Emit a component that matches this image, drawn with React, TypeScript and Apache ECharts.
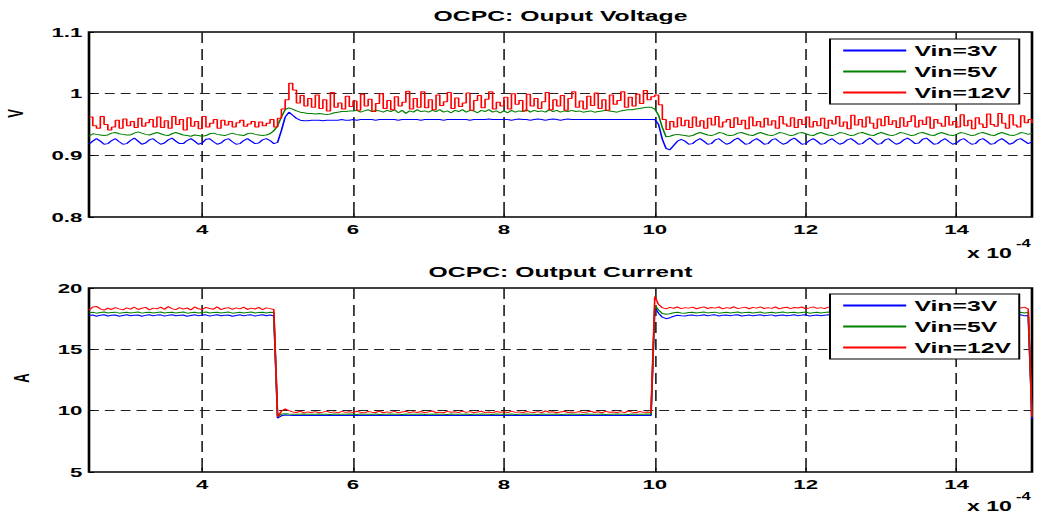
import React, { useEffect, useRef } from 'react';
import * as echarts from 'echarts';

// Horizontal stretch of the whole figure (the reference is a widened MATLAB figure)
const S = 1.65;
const PAGE_W = 1037;
const PAGE_H = 520;
const W = PAGE_W / S;
const px = (x: number) => x / S;
const FONT = '"Liberation Sans", Arial, Helvetica, sans-serif';

// Time base: samples every 0.05 (x 1e-4 s) from 2.5 to 15
const T_START = 2.5;
const T_STEP = 0.05;
const X_TICKS = [4, 6, 8, 10, 12, 14];

const SERIES_NAMES = ['Vin=3V', 'Vin=5V', 'Vin=12V'];
const SERIES_COLORS = ['#0000ff', '#008000', '#ff0000'];

// ---------- Output voltage (V) ----------
const voltage3V = [
  0.918, 0.923, 0.927, 0.923, 0.918, 0.919, 0.924, 0.927, 0.922, 0.918,
  0.919, 0.924, 0.928, 0.923, 0.918, 0.920, 0.925, 0.927, 0.922, 0.918,
  0.920, 0.925, 0.928, 0.923, 0.919, 0.919, 0.924, 0.927, 0.923, 0.918,
  0.920, 0.926, 0.927, 0.922, 0.918, 0.920, 0.925, 0.927, 0.922, 0.918,
  0.919, 0.924, 0.927, 0.923, 0.919, 0.920, 0.925, 0.927, 0.924, 0.919,
  0.921, 0.940, 0.962, 0.970, 0.965, 0.960, 0.957, 0.956, 0.956, 0.957,
  0.957, 0.957, 0.956, 0.957, 0.957, 0.957, 0.957, 0.958, 0.957, 0.957,
  0.958, 0.957, 0.958, 0.958, 0.958, 0.958, 0.957, 0.958, 0.958, 0.958,
  0.958, 0.958, 0.957, 0.958, 0.958, 0.958, 0.958, 0.958, 0.957, 0.958,
  0.958, 0.958, 0.958, 0.958, 0.957, 0.958, 0.958, 0.958, 0.958, 0.958,
  0.958, 0.957, 0.958, 0.958, 0.958, 0.958, 0.959, 0.958, 0.958, 0.958,
  0.958, 0.958, 0.957, 0.958, 0.959, 0.958, 0.958, 0.957, 0.958, 0.959,
  0.958, 0.957, 0.958, 0.959, 0.958, 0.957, 0.958, 0.959, 0.958, 0.958,
  0.958, 0.958, 0.958, 0.958, 0.958, 0.958, 0.958, 0.958, 0.958, 0.958,
  0.958, 0.958, 0.958, 0.958, 0.958, 0.958, 0.958, 0.958, 0.958, 0.958,
  0.958, 0.950, 0.926, 0.911, 0.909, 0.916, 0.923, 0.926, 0.923, 0.918,
  0.919, 0.924, 0.927, 0.923, 0.918, 0.919, 0.925, 0.927, 0.922, 0.918,
  0.920, 0.925, 0.928, 0.923, 0.918, 0.919, 0.924, 0.927, 0.923, 0.918,
  0.919, 0.925, 0.927, 0.922, 0.918, 0.920, 0.925, 0.928, 0.923, 0.918,
  0.919, 0.924, 0.927, 0.923, 0.918, 0.919, 0.924, 0.927, 0.922, 0.918,
  0.920, 0.925, 0.927, 0.923, 0.918, 0.919, 0.924, 0.928, 0.923, 0.918,
  0.919, 0.925, 0.927, 0.922, 0.918, 0.920, 0.925, 0.928, 0.924, 0.919,
  0.920, 0.926, 0.928, 0.923, 0.918, 0.919, 0.924, 0.927, 0.922, 0.918,
  0.920, 0.925, 0.927, 0.922, 0.918, 0.919, 0.925, 0.927, 0.923, 0.918,
  0.919, 0.924, 0.927, 0.923, 0.918, 0.920, 0.925, 0.927, 0.923, 0.919,
  0.922,
];

const voltage5V = [
  0.931, 0.935, 0.934, 0.933, 0.932, 0.933, 0.936, 0.937, 0.935, 0.934,
  0.933, 0.933, 0.936, 0.938, 0.936, 0.934, 0.933, 0.935, 0.937, 0.935,
  0.933, 0.932, 0.935, 0.937, 0.935, 0.933, 0.932, 0.931, 0.933, 0.932,
  0.931, 0.932, 0.935, 0.936, 0.934, 0.933, 0.932, 0.934, 0.936, 0.934,
  0.933, 0.932, 0.935, 0.936, 0.934, 0.933, 0.932, 0.933, 0.935, 0.940,
  0.948, 0.962, 0.974, 0.977, 0.975, 0.972, 0.970, 0.969, 0.968, 0.968,
  0.967, 0.968, 0.967, 0.966, 0.967, 0.969, 0.970, 0.971, 0.971, 0.972,
  0.972, 0.973, 0.970, 0.972, 0.974, 0.971, 0.973, 0.972, 0.970, 0.973,
  0.971, 0.974, 0.969, 0.973, 0.968, 0.972, 0.970, 0.974, 0.971, 0.972,
  0.970, 0.973, 0.971, 0.974, 0.970, 0.972, 0.969, 0.973, 0.971, 0.974,
  0.970, 0.973, 0.972, 0.969, 0.973, 0.971, 0.974, 0.970, 0.972, 0.969,
  0.972, 0.969, 0.973, 0.970, 0.972, 0.971, 0.974, 0.970, 0.973, 0.971,
  0.972, 0.970, 0.974, 0.971, 0.973, 0.970, 0.972, 0.971, 0.973, 0.971,
  0.972, 0.970, 0.971, 0.972, 0.970, 0.971, 0.972, 0.973, 0.972, 0.971,
  0.970, 0.972, 0.973, 0.974, 0.974, 0.975, 0.976, 0.977, 0.978, 0.978,
  0.975, 0.965, 0.945, 0.930, 0.931, 0.933, 0.934, 0.933, 0.932, 0.931,
  0.932, 0.935, 0.937, 0.935, 0.933, 0.932, 0.934, 0.937, 0.936, 0.933,
  0.932, 0.933, 0.936, 0.937, 0.935, 0.933, 0.932, 0.935, 0.937, 0.935,
  0.933, 0.932, 0.934, 0.937, 0.936, 0.934, 0.932, 0.933, 0.936, 0.937,
  0.935, 0.933, 0.932, 0.935, 0.937, 0.935, 0.933, 0.932, 0.934, 0.937,
  0.936, 0.934, 0.932, 0.933, 0.936, 0.937, 0.935, 0.933, 0.932, 0.935,
  0.937, 0.935, 0.933, 0.932, 0.934, 0.937, 0.936, 0.934, 0.932, 0.933,
  0.936, 0.937, 0.935, 0.933, 0.932, 0.935, 0.937, 0.935, 0.933, 0.932,
  0.934, 0.937, 0.936, 0.934, 0.932, 0.933, 0.936, 0.937, 0.935, 0.933,
  0.932, 0.935, 0.937, 0.935, 0.933, 0.932, 0.934, 0.937, 0.936, 0.934,
  0.936,
];

const voltage12V = [
  0.962, 0.948, 0.944, 0.963, 0.950, 0.941, 0.946, 0.957, 0.944, 0.959,
  0.948, 0.955, 0.945, 0.960, 0.947, 0.953, 0.958, 0.946, 0.962, 0.945,
  0.956, 0.944, 0.963, 0.950, 0.958, 0.941, 0.961, 0.947, 0.955, 0.943,
  0.963, 0.946, 0.952, 0.958, 0.944, 0.957, 0.949, 0.955, 0.946, 0.953,
  0.957, 0.947, 0.951, 0.955, 0.946, 0.954, 0.948, 0.952, 0.958, 0.946,
  0.960, 0.975, 0.990, 1.017, 1.006, 0.985, 0.997, 0.980, 0.992, 0.978,
  0.998, 0.976, 0.990, 0.972, 1.002, 0.978, 0.985, 0.975, 0.996, 0.979,
  0.988, 0.973, 0.999, 0.980, 0.991, 0.971, 0.984, 1.000, 0.976, 0.989,
  0.974, 0.995, 0.980, 0.986, 1.004, 0.975, 0.992, 0.978, 1.003, 0.977,
  0.990, 0.974, 0.998, 0.981, 0.987, 1.002, 0.976, 0.993, 0.979, 0.985,
  1.001, 0.973, 0.989, 0.997, 0.977, 0.991, 1.003, 0.975, 0.986, 0.980,
  0.994, 0.975, 1.000, 0.983, 0.989, 0.972, 0.999, 0.980, 0.992, 0.976,
  0.987, 1.002, 0.974, 0.990, 0.980, 0.997, 0.973, 0.992, 1.003, 0.978,
  0.988, 0.975, 0.996, 0.981, 1.001, 0.976, 0.990, 0.973, 0.998, 0.983,
  0.989, 1.003, 0.978, 0.994, 0.980, 0.999, 0.984, 1.005, 0.990, 0.995,
  0.998, 0.982, 0.958, 0.942, 0.955, 0.946, 0.961, 0.948, 0.957, 0.945,
  0.962, 0.947, 0.956, 0.944, 0.960, 0.949, 0.963, 0.946, 0.954, 0.958,
  0.945, 0.961, 0.950, 0.957, 0.943, 0.962, 0.948, 0.955, 0.946, 0.960,
  0.949, 0.956, 0.944, 0.963, 0.951, 0.947, 0.961, 0.945, 0.958, 0.950,
  0.962, 0.946, 0.955, 0.948, 0.960, 0.944, 0.957, 0.951, 0.963, 0.947,
  0.954, 0.943, 0.965, 0.949, 0.958, 0.946, 0.962, 0.952, 0.944, 0.959,
  0.948, 0.963, 0.950, 0.956, 0.945, 0.961, 0.947, 0.955, 0.964, 0.946,
  0.957, 0.950, 0.962, 0.944, 0.958, 0.952, 0.947, 0.963, 0.949, 0.955,
  0.946, 0.966, 0.948, 0.957, 0.943, 0.961, 0.951, 0.945, 0.967, 0.950,
  0.947, 0.968, 0.952, 0.944, 0.966, 0.949, 0.946, 0.964, 0.953, 0.958,
  0.952,
];

// ---------- Output current (A) ----------
const current3V = [
  17.75, 17.80, 17.70, 17.78, 17.82, 17.72, 17.78, 17.80, 17.70, 17.76,
  17.82, 17.74, 17.78, 17.80, 17.70, 17.77, 17.82, 17.73, 17.79, 17.81,
  17.71, 17.77, 17.82, 17.74, 17.78, 17.80, 17.70, 17.76, 17.82, 17.73,
  17.79, 17.81, 17.71, 17.77, 17.82, 17.74, 17.78, 17.80, 17.70, 17.76,
  17.82, 17.73, 17.79, 17.81, 17.71, 17.77, 17.82, 17.74, 17.80, 17.72,
  9.40, 9.58, 9.65, 9.62, 9.60, 9.61, 9.60, 9.60, 9.61, 9.60,
  9.60, 9.61, 9.60, 9.60, 9.61, 9.60, 9.60, 9.61, 9.60, 9.61,
  9.60, 9.60, 9.61, 9.60, 9.61, 9.60, 9.60, 9.61, 9.60, 9.60,
  9.61, 9.60, 9.60, 9.61, 9.60, 9.60, 9.61, 9.60, 9.61, 9.60,
  9.60, 9.61, 9.60, 9.60, 9.61, 9.60, 9.61, 9.60, 9.60, 9.61,
  9.60, 9.60, 9.61, 9.60, 9.60, 9.61, 9.60, 9.61, 9.60, 9.60,
  9.61, 9.60, 9.60, 9.61, 9.60, 9.61, 9.60, 9.60, 9.61, 9.60,
  9.60, 9.61, 9.60, 9.61, 9.60, 9.60, 9.61, 9.60, 9.60, 9.61,
  9.60, 9.60, 9.61, 9.60, 9.61, 9.60, 9.60, 9.61, 9.60, 9.61,
  9.60, 9.61, 9.60, 9.60, 9.61, 9.60, 9.61, 9.60, 9.60, 9.60,
  18.40, 17.95, 17.62, 17.50, 17.58, 17.70, 17.78, 17.74, 17.72, 17.77,
  17.80, 17.73, 17.76, 17.82, 17.74, 17.79, 17.81, 17.72, 17.77, 17.80,
  17.74, 17.79, 17.82, 17.72, 17.76, 17.80, 17.73, 17.78, 17.82, 17.74,
  17.77, 17.81, 17.72, 17.78, 17.80, 17.74, 17.77, 17.82, 17.73, 17.79,
  17.81, 17.72, 17.76, 17.80, 17.74, 17.78, 17.82, 17.73, 17.77, 17.80,
  17.74, 17.78, 17.81, 17.72, 17.77, 17.80, 17.75, 17.79, 17.82, 17.73,
  17.76, 17.81, 17.73, 17.78, 17.80, 17.74, 17.77, 17.82, 17.72, 17.78,
  17.80, 17.74, 17.77, 17.81, 17.72, 17.78, 17.80, 17.74, 17.79, 17.82,
  17.73, 17.77, 17.80, 17.74, 17.78, 17.82, 17.72, 17.76, 17.80, 17.74,
  17.78, 17.81, 17.73, 17.77, 17.80, 17.74, 17.79, 17.82, 17.73, 17.76,
  9.30,
];

const current5V = [
  17.98, 18.02, 17.95, 18.00, 18.04, 17.96, 18.01, 18.03, 17.95, 17.99,
  18.03, 17.97, 18.00, 18.04, 17.95, 18.01, 18.03, 17.96, 18.00, 18.04,
  17.96, 18.00, 18.03, 17.97, 18.01, 18.04, 17.95, 17.99, 18.03, 17.96,
  18.01, 18.04, 17.96, 18.00, 18.03, 17.97, 18.01, 18.04, 17.95, 17.99,
  18.03, 17.97, 18.01, 18.04, 17.96, 18.00, 18.03, 17.97, 18.02, 18.00,
  9.50, 9.72, 9.75, 9.72, 9.70, 9.71, 9.70, 9.72, 9.70, 9.71,
  9.70, 9.72, 9.70, 9.71, 9.69, 9.72, 9.70, 9.71, 9.70, 9.72,
  9.71, 9.69, 9.72, 9.70, 9.71, 9.70, 9.72, 9.69, 9.71, 9.70,
  9.72, 9.70, 9.71, 9.69, 9.72, 9.70, 9.71, 9.70, 9.72, 9.69,
  9.71, 9.70, 9.72, 9.70, 9.71, 9.69, 9.72, 9.70, 9.71, 9.70,
  9.72, 9.69, 9.71, 9.70, 9.72, 9.70, 9.71, 9.69, 9.72, 9.70,
  9.71, 9.70, 9.72, 9.69, 9.71, 9.70, 9.72, 9.70, 9.71, 9.69,
  9.72, 9.70, 9.71, 9.70, 9.72, 9.69, 9.71, 9.70, 9.72, 9.70,
  9.71, 9.69, 9.72, 9.70, 9.71, 9.70, 9.72, 9.69, 9.71, 9.70,
  9.72, 9.70, 9.71, 9.69, 9.72, 9.70, 9.71, 9.70, 9.72, 9.71,
  18.60, 18.20, 17.92, 17.86, 17.90, 17.98, 18.02, 17.97, 17.95, 18.00,
  18.03, 17.96, 18.00, 18.04, 17.97, 18.01, 18.03, 17.95, 17.99, 18.03,
  17.97, 18.01, 18.04, 17.96, 18.00, 18.03, 17.97, 18.01, 18.04, 17.95,
  17.99, 18.03, 17.96, 18.01, 18.04, 17.97, 18.00, 18.03, 17.96, 18.01,
  18.04, 17.95, 17.99, 18.03, 17.97, 18.01, 18.04, 17.96, 18.00, 18.03,
  17.97, 18.01, 18.04, 17.95, 17.99, 18.03, 17.96, 18.01, 18.04, 17.97,
  18.00, 18.03, 17.96, 18.01, 18.04, 17.95, 17.99, 18.03, 17.97, 18.01,
  18.04, 17.96, 18.00, 18.03, 17.97, 18.01, 18.04, 17.95, 17.99, 18.03,
  17.96, 18.01, 18.04, 17.97, 18.00, 18.03, 17.96, 18.01, 18.04, 17.95,
  17.99, 18.03, 17.97, 18.01, 18.04, 17.96, 18.00, 18.03, 17.97, 18.02,
  9.50,
];

const current12V = [
  18.20, 18.45, 18.50, 18.30, 18.20, 18.35, 18.25, 18.40, 18.30, 18.22,
  18.38, 18.28, 18.45, 18.25, 18.35, 18.42, 18.22, 18.36, 18.30, 18.44,
  18.26, 18.48, 18.32, 18.24, 18.40, 18.28, 18.37, 18.22, 18.45, 18.30,
  18.25, 18.42, 18.33, 18.27, 18.46, 18.24, 18.35, 18.40, 18.26, 18.38,
  18.30, 18.44, 18.25, 18.36, 18.29, 18.42, 18.24, 18.38, 18.32, 18.25,
  9.50, 9.95, 10.15, 10.00, 9.90, 9.85, 9.95, 9.82, 9.90, 9.85,
  9.92, 9.83, 9.88, 9.96, 9.84, 9.90, 9.82, 9.94, 9.86, 9.91,
  9.84, 9.95, 9.87, 9.82, 9.93, 9.88, 9.85, 9.97, 9.83, 9.90,
  9.86, 9.94, 9.82, 9.89, 9.96, 9.84, 9.91, 9.85, 9.93, 9.83,
  9.90, 9.97, 9.85, 9.88, 9.83, 9.94, 9.87, 9.91, 9.84, 9.96,
  9.86, 9.92, 9.83, 9.90, 9.95, 9.84, 9.89, 9.82, 9.93, 9.87,
  9.91, 9.84, 9.96, 9.86, 9.90, 9.83, 9.94, 9.88, 9.85, 9.92,
  9.84, 9.97, 9.87, 9.91, 9.83, 9.89, 9.95, 9.85, 9.90, 9.86,
  9.93, 9.84, 9.89, 9.96, 9.85, 9.91, 9.83, 9.94, 9.87, 9.90,
  9.85, 9.92, 9.84, 9.97, 9.88, 9.83, 9.93, 9.86, 9.90, 9.85,
  19.30, 18.65, 18.40, 18.30, 18.42, 18.35, 18.45, 18.32, 18.40, 18.36,
  18.44, 18.31, 18.39, 18.46, 18.33, 18.41, 18.36, 18.45, 18.30, 18.40,
  18.35, 18.47, 18.32, 18.38, 18.44, 18.31, 18.42, 18.36, 18.46, 18.33,
  18.40, 18.34, 18.45, 18.30, 18.39, 18.43, 18.32, 18.41, 18.37, 18.45,
  18.31, 18.38, 18.46, 18.34, 18.40, 18.32, 18.44, 18.36, 18.42, 18.30,
  18.39, 18.45, 18.33, 18.41, 18.36, 18.47, 18.31, 18.38, 18.43, 18.34,
  18.42, 18.30, 18.40, 18.45, 18.33, 18.39, 18.36, 18.46, 18.32, 18.41,
  18.37, 18.44, 18.31, 18.39, 18.42, 18.34, 18.45, 18.30, 18.40, 18.36,
  18.43, 18.32, 18.41, 18.37, 18.46, 18.33, 18.38, 18.44, 18.31, 18.40,
  18.36, 18.45, 18.33, 18.39, 18.42, 18.30, 18.41, 18.37, 18.44, 18.28,
  9.50,
];

const VOLTAGE_SERIES = [voltage3V, voltage5V, voltage12V];
const CURRENT_SERIES = [current3V, current5V, current12V];
// The 12 V voltage trace is a sampled (staircase) signal in the reference
const VOLTAGE_STEP: (string | false)[] = [false, false, 'end'];

const toPairs = (vals: number[]) =>
  vals.map((v, i) => [Math.round((T_START + i * T_STEP) * 100) / 100, v]);

const boldText = (size: number) => ({
  fontSize: size,
  fontWeight: 'bold' as const,
  fontFamily: FONT,
  color: '#000',
});

function makeXAxis(gridIndex: number) {
  return {
    type: 'value',
    gridIndex,
    min: 2.5,
    max: 15,
    axisLine: { show: false },
    axisTick: {
      show: true,
      inside: true,
      length: 4,
      customValues: X_TICKS,
      lineStyle: { color: '#000', width: 1 },
    },
    axisLabel: { ...boldText(13.5), margin: 5, customValues: X_TICKS },
    splitLine: {
      show: true,
      lineStyle: { color: '#222', width: 1, type: [11, 6] },
    },
  };
}

function makeYAxis(
  gridIndex: number,
  min: number,
  max: number,
  interval: number,
  name: string,
  nameGap: number,
  namePadding: number[],
) {
  return {
    type: 'value',
    gridIndex,
    min,
    max,
    interval,
    name,
    nameLocation: 'middle',
    nameGap,
    nameTextStyle: { ...boldText(13), padding: namePadding },
    axisLine: { show: false },
    axisTick: { show: true, inside: true, length: 3, lineStyle: { color: '#000' } },
    axisLabel: { ...boldText(13.5), margin: 4 },
    splitLine: {
      show: true,
      showMinLine: false,
      showMaxLine: false,
      lineStyle: { color: '#222', width: 1, type: [6, 3.6] },
    },
  };
}

function makeLegend(top: number) {
  return {
    orient: 'vertical',
    left: px(830),
    top,
    z: 20,
    data: SERIES_NAMES.map((name, k) => ({
      name,
      icon: 'rect',
      itemStyle: { color: SERIES_COLORS[k] },
    })),
    selectedMode: false,
    icon: 'rect',
    itemWidth: px(63),
    itemHeight: 2,
    itemGap: 6,
    padding: [4, 5, 4, 8],
    borderColor: '#000',
    borderWidth: 1.2,
    backgroundColor: '#ffffff',
    textStyle: { ...boldText(15), height: 15, lineHeight: 15 },
  };
}

const gridBox = (top: number, height: number) => ({
  left: px(89),
  top,
  width: px(943),
  height,
  show: true,
  borderColor: '#000',
  borderWidth: 1.6,
  backgroundColor: '#fff',
  containLabel: false,
  outerBoundsMode: 'none',
});

export default function App() {
  const ref = useRef<HTMLDivElement>(null);

  useEffect(() => {
    if (!ref.current) return;
    const chart = echarts.init(ref.current, undefined, { renderer: 'svg' });

    const series: any[] = [];
    VOLTAGE_SERIES.forEach((vals, k) => {
      series.push({
        name: SERIES_NAMES[k],
        type: 'line',
        xAxisIndex: 0,
        yAxisIndex: 0,
        data: toPairs(vals),
        step: VOLTAGE_STEP[k],
        showSymbol: false,
        symbol: 'none',
        lineStyle: { color: SERIES_COLORS[k], width: 1 },
        itemStyle: { color: SERIES_COLORS[k] },
      });
    });
    CURRENT_SERIES.forEach((vals, k) => {
      series.push({
        name: SERIES_NAMES[k],
        type: 'line',
        xAxisIndex: 1,
        yAxisIndex: 1,
        data: toPairs(vals),
        showSymbol: false,
        symbol: 'none',
        lineStyle: { color: SERIES_COLORS[k], width: 1 },
        itemStyle: { color: SERIES_COLORS[k] },
      });
    });

    const plainText = (text: string, x: number, y: number, size: number) => ({
      type: 'text',
      x: px(x),
      y,
      style: {
        text,
        fontSize: size,
        fontWeight: 'bold',
        fontFamily: FONT,
        fill: '#000',
        align: 'left',
        verticalAlign: 'middle',
      },
    });

    chart.setOption({
      animation: false,
      backgroundColor: '#fff',
      title: [
        {
          text: 'OCPC: Ouput Voltage',
          left: px(560.5),
          top: 8,
          textAlign: 'center',
          padding: 0,
          textStyle: boldText(15),
        },
        {
          text: 'OCPC: Output Current',
          left: px(560.5),
          top: 264,
          textAlign: 'center',
          padding: 0,
          textStyle: boldText(15),
        },
      ],
      legend: [makeLegend(39), makeLegend(294)],
      grid: [gridBox(32, 185), gridBox(288, 184)],
      xAxis: [makeXAxis(0), makeXAxis(1)],
      yAxis: [
        makeYAxis(0, 0.8, 1.1, 0.1, 'V', 38, [0, 0, 0, 22]),
        makeYAxis(1, 5, 20, 5, 'A', 34, [0, 0, 0, 4]),
      ],
      graphic: [
        plainText('x 10', 967, 253, 14),
        plainText('-4', 1016, 244, 10),
        plainText('x 10', 967, 506, 14),
        plainText('-4', 1016, 497, 10),
      ],
      series,
    });

    return () => {
      chart.dispose();
    };
  }, []);

  return (
    <div
      ref={ref}
      style={{
        position: 'fixed',
        left: 0,
        top: 0,
        width: W,
        height: PAGE_H,
        transform: `scaleX(${S})`,
        transformOrigin: '0 0',
        background: '#fff',
      }}
    />
  );
}
